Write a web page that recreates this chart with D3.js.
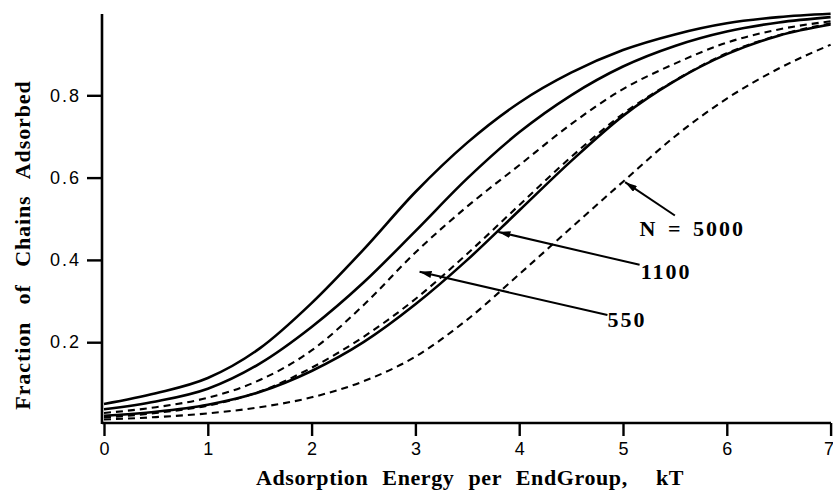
<!DOCTYPE html>
<html>
<head>
<meta charset="utf-8">
<script src="https://cdn.jsdelivr.net/npm/d3@7/dist/d3.min.js"></script>
<style>
  html, body { margin: 0; padding: 0; background: #fff; }
  svg { display: block; }
</style>
</head>
<body>
<svg id="chart" width="833" height="491"></svg>
<script>
// ---- data ----
const energy   = [0, 0.5, 1, 1.5, 2, 2.5, 3, 3.5, 4, 4.5, 5, 5.5, 6, 6.5, 7];
const solidA   = [0.050, 0.076, 0.113, 0.185, 0.295, 0.425, 0.565, 0.685, 0.782, 0.855, 0.91, 0.948, 0.975, 0.99, 0.998];
const solidB   = [0.037, 0.056, 0.087, 0.148, 0.237, 0.345, 0.47, 0.598, 0.71, 0.80, 0.87, 0.92, 0.955, 0.977, 0.99];
const solidC   = [0.021, 0.031, 0.048, 0.079, 0.13, 0.20, 0.292, 0.40, 0.52, 0.64, 0.75, 0.835, 0.90, 0.945, 0.972];
const dashedA  = [0.028, 0.042, 0.065, 0.108, 0.18, 0.29, 0.418, 0.53, 0.63, 0.73, 0.815, 0.877, 0.928, 0.96, 0.98];
const dashedB  = [0.017, 0.028, 0.046, 0.080, 0.138, 0.213, 0.305, 0.415, 0.533, 0.65, 0.755, 0.836, 0.902, 0.946, 0.975];
const dashedC  = [0.012, 0.018, 0.027, 0.042, 0.066, 0.105, 0.165, 0.255, 0.365, 0.478, 0.59, 0.70, 0.792, 0.865, 0.923];
const xTicks   = [0, 1, 2, 3, 4, 5, 6, 7];
const yTicks   = [0.2, 0.4, 0.6, 0.8];
const xTitle   = "Adsorption Energy per EndGroup,  kT";
const yTitle   = "Fraction of Chains Adsorbed";
// annotations: label text, label anchor, arrow tail, arrow head (data units)
const annLabels = ["N = 5000", "1100", "550"];
const annLabelPos = [[5.16, 0.458], [5.17, 0.354], [4.85, 0.237]];
const annTail = [[5.50, 0.508], [5.16, 0.388], [4.85, 0.266]];
const annHead = [[5.02, 0.589], [3.80, 0.468], [3.04, 0.371]];

// ---- layout ----
const svg = d3.select("#chart");
const x = d3.scaleLinear().domain([0, 7]).range([104, 830.6]);
const y = d3.scaleLinear().domain([0, 1]).range([424.5, 13]);
const axisY0 = 423;   // pixel of x-axis baseline
const axisX0 = 102;   // pixel of y-axis line

const series = [
  {v: solidA, dash: null}, {v: solidB, dash: null}, {v: solidC, dash: null},
  {v: dashedA, dash: "7,5"}, {v: dashedB, dash: "7,5"}, {v: dashedC, dash: "7,5"}
];

const line = d3.line()
  .x((d, i) => x(energy[i]))
  .y(d => y(d))
  .curve(d3.curveMonotoneX);

svg.append("g").selectAll("path").data(series).join("path")
  .attr("d", d => line(d.v))
  .attr("fill", "none")
  .attr("stroke", "#000")
  .attr("stroke-width", d => d.dash ? 2.1 : 2.6)
  .attr("stroke-dasharray", d => d.dash);

// ---- axes ----
const tickFont = "'Liberation Sans', Arial, Helvetica, sans-serif";
const gx = svg.append("g").attr("transform", `translate(0,${axisY0})`)
  .call(d3.axisBottom(x).tickValues(xTicks).tickFormat(d3.format("d")).tickSize(13).tickSizeOuter(0).tickPadding(6));
gx.select(".domain").attr("d", `M${axisX0},0H831`).attr("stroke-width", 2.6);
gx.selectAll(".tick line").attr("stroke-width", 2.4);
gx.selectAll(".tick text").attr("font-family", tickFont).attr("font-size", 18).attr("fill", "#000");
gx.selectAll(".tick text").filter(d => d === 7).attr("text-anchor", "end").attr("dx", 3);

const gy = svg.append("g").attr("transform", `translate(${axisX0},0)`)
  .call(d3.axisLeft(y).tickValues(yTicks).tickFormat(d3.format(".1f")).tickSize(15).tickSizeOuter(0).tickPadding(6));
gy.select(".domain").attr("d", `M0,14V${axisY0 + 1}`).attr("stroke-width", 2.6);
gy.selectAll(".tick line").attr("stroke-width", 2.4);
gy.selectAll(".tick text").attr("font-family", tickFont).attr("font-size", 18).attr("fill", "#000").attr("letter-spacing", 2);

// ---- titles ----
const serif = "'Liberation Serif', 'Times New Roman', Times, serif";
svg.append("text").text(xTitle)
  .attr("x", 470).attr("y", 485).attr("text-anchor", "middle")
  .attr("font-family", serif).attr("font-weight", "bold").attr("font-size", 22)
  .attr("word-spacing", 8).attr("letter-spacing", 0.6).style("white-space", "pre");

svg.append("text").text(yTitle)
  .attr("transform", "translate(30,245) rotate(-90)").attr("text-anchor", "middle")
  .attr("font-family", serif).attr("font-weight", "bold").attr("font-size", 22)
  .attr("word-spacing", 11).attr("letter-spacing", 0.9);

// ---- annotations ----
const defs = svg.append("defs");
defs.append("marker").attr("id", "ah").attr("viewBox", "0 0 12 7")
  .attr("refX", 12).attr("refY", 3.5).attr("markerWidth", 12).attr("markerHeight", 7)
  .attr("markerUnits", "userSpaceOnUse").attr("orient", "auto")
  .append("path").attr("d", "M0,0L12,3.5L0,7Z").attr("fill", "#000");

const ann = svg.append("g");
annLabels.forEach((t, i) => {
  ann.append("line")
    .attr("x1", x(annTail[i][0])).attr("y1", y(annTail[i][1]))
    .attr("x2", x(annHead[i][0])).attr("y2", y(annHead[i][1]))
    .attr("stroke", "#000").attr("stroke-width", 2).attr("marker-end", "url(#ah)");
  ann.append("text").text(t)
    .attr("x", x(annLabelPos[i][0])).attr("y", y(annLabelPos[i][1]))
    .attr("font-family", serif).attr("font-weight", "bold").attr("font-size", 22)
    .attr("letter-spacing", 2).attr("word-spacing", 3).style("white-space", "pre");
});
</script>
</body>
</html>
